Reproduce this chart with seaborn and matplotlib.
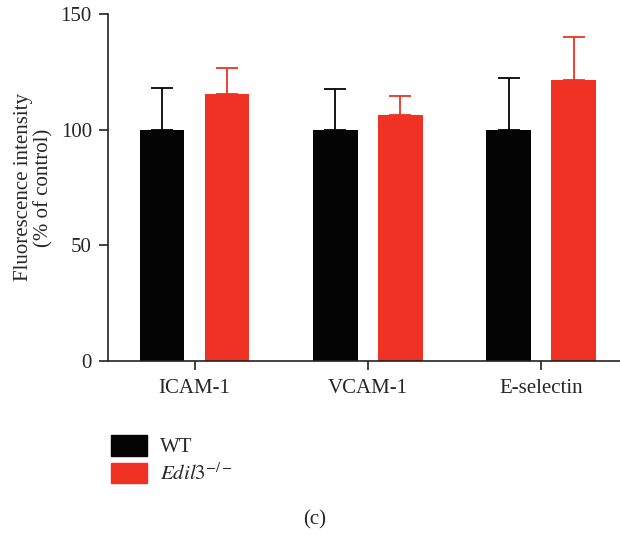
# Fluorescence intensity of adhesion molecules, WT vs Edil3-/- (panel c)
import pandas as pd
import matplotlib
matplotlib.use('Agg')
import matplotlib.pyplot as plt
import seaborn as sns

markers = ['ICAM-1', 'VCAM-1', 'E-selectin']
groups = ['WT', 'Edil3']
wt_mean = [100, 100, 100]
wt_err = [17.9, 17.6, 22.5]
ko_mean = [115.3, 106.2, 121.4]
ko_err = [11.4, 8.4, 18.7]

sns.set_theme(style='ticks')
plt.rcParams['font.family'] = ['Liberation Serif', 'DejaVu Serif']
plt.rcParams['mathtext.fontset'] = 'stix'
plt.rcParams['font.size'] = 15

colors = {'WT': '#040404', 'Edil3': '#EF3224'}

df = pd.DataFrame({
    'marker': markers * 2,
    'group': ['WT'] * 3 + ['Edil3'] * 3,
    'value': wt_mean + ko_mean,
    'err': wt_err + ko_err,
})

fig = plt.figure(figsize=(6.2, 5.35), dpi=100)
ax = fig.add_axes([0.174, 0.326, 0.826, 0.6474])

sns.barplot(data=df, x='marker', y='value', hue='group', order=markers,
            hue_order=groups, palette=colors, errorbar=None, width=0.75,
            gap=0.317, saturation=1, linewidth=0, legend=False, ax=ax)

# one-sided (upward) error bars on top of each bar
for bars, g in zip(ax.containers, groups):
    sub = df[df['group'] == g].set_index('marker').loc[markers]
    xs = [b.get_x() + b.get_width() / 2 for b in bars]
    ys = [b.get_height() for b in bars]
    ax.errorbar(xs, ys, yerr=[[0] * len(ys), list(sub['err'])], fmt='none',
                ecolor=colors[g], elinewidth=1.3, capsize=8, capthick=1.3)

ax.set_ylim(0, 150)
ax.set_yticks([0, 50, 100, 150])
ax.set_xlim(-0.5, 2.455)
ax.set_xlabel('')
ax.set_ylabel('Fluorescence intensity\n(% of control)', fontsize=15, labelpad=5,
              linespacing=1.1)
sns.despine(ax=ax)
for sp in ['left', 'bottom']:
    ax.spines[sp].set_linewidth(1.2)
    ax.spines[sp].set_color('#222222')
ax.tick_params(axis='both', length=6.5, width=1.2, color='#222222', labelsize=15)
ax.tick_params(axis='x', pad=7)
ax.tick_params(axis='y', pad=5)

handles = [plt.Rectangle((0, 0), 1, 1, color=colors[g]) for g in groups]
labels = ['WT', r'$\mathit{Edil3}^{-/-}$']
fig.legend(handles, labels, loc='upper left', bbox_to_anchor=(111 / 620, 1 - 435 / 535),
           frameon=False, borderpad=0, borderaxespad=0, handlelength=1.73,
           handleheight=1.15, labelspacing=0.25, handletextpad=0.6, fontsize=15)

fig.text(315 / 620, 1 - 520 / 535, '(c)', ha='center', va='center', fontsize=15)

fig.savefig('out.png', dpi=100)
